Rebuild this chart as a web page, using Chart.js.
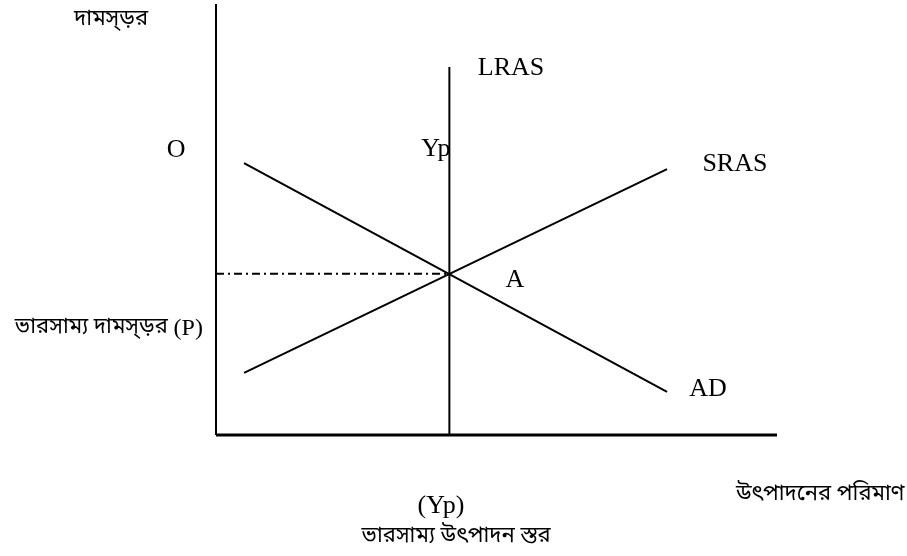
<!DOCTYPE html>
<html>
<head>
<meta charset="utf-8">
<script src="https://cdn.jsdelivr.net/npm/chart.js@4.4.1/dist/chart.umd.min.js"></script>
<style>
html,body{margin:0;padding:0;background:#fff;}
#wrap{width:907px;height:556px;position:relative;}
</style>
</head>
<body>
<div id="wrap"><canvas id="c" width="907" height="556"></canvas></div>
<script>
// Diagram data (abstract units: quantity 0..100, price level 0..100)
const lrasX = [41.6, 41.6];
const lrasY = [0, 85.4];
const adX = [5.0, 80.4];
const adY = [63.1, 10.0];
const srasX = [5.0, 80.4];
const srasY = [14.4, 61.7];
const eqX = [0, 41.6];
const eqY = [37.4, 37.4];
const axisYX = [0, 0];
const axisYY = [0, 100];
const axisXX = [0, 100];
const axisXY = [0, 0];

// Text labels
const labelTexts = ['দামস্ড়র', 'O', 'Yp', 'LRAS', 'SRAS', 'A', 'ভারসাম্য দামস্ড়র (P)', 'AD', '(Yp)', 'ভারসাম্য উৎপাদন স্তর', 'উৎপাদনের পরিমাণ'];
const labelX = [-18.7, -7.1, 39.2, 52.6, 92.5, 53.3, -19.1, 87.7, 40.1, 42.8, 107.7];
const labelY = [96.0, 66.1, 66.4, 85.2, 62.9, 36.0, 24.6, 10.7, -16.5, -23.9, -14.0];
const labelKind = ['bn', 'en', 'en', 'en', 'en', 'en', 'mix', 'en', 'en', 'bn', 'bn'];

function pts(xs, ys){ return xs.map((x,i)=>({x:x, y:ys[i]})); }

const serif = '"Liberation Serif", "Times New Roman", serif';
const bn = '"Noto Sans Bengali", "Lohit Bengali", "Noto Sans", "DejaVu Sans", sans-serif';
const bnSize = 22;
const enSize = 26;

const labelPlugin = {
  id: 'labels',
  afterDraw(chart){
    const ctx = chart.ctx;
    const xs = chart.scales.x, ys = chart.scales.y;
    ctx.save();
    ctx.fillStyle = '#000';
    ctx.textAlign = 'center';
    ctx.textBaseline = 'middle';
    labelTexts.forEach((t,i)=>{
      const px = xs.getPixelForValue(labelX[i]);
      const py = ys.getPixelForValue(labelY[i]);
      if (labelKind[i] === 'mix') {
        const part1 = 'ভারসাম্য দামস্ড়র ';
        const part2 = '(P)';
        ctx.font = bnSize + 'px ' + bn;
        const w1 = ctx.measureText(part1).width;
        ctx.font = '24px ' + serif;
        const w2 = ctx.measureText(part2).width;
        const left = px - (w1 + w2)/2;
        ctx.textAlign = 'left';
        ctx.font = bnSize + 'px ' + bn;
        ctx.fillText(part1, left, py);
        ctx.font = '24px ' + serif;
        ctx.fillText(part2, left + w1, py);
        ctx.textAlign = 'center';
      } else {
        ctx.font = labelKind[i] === 'en' ? (enSize + 'px ' + serif) : (bnSize + 'px ' + bn);
        ctx.fillText(t, px, py);
      }
    });
    ctx.restore();
  }
};

const lineDs = (data, width, dash) => ({
  data: data, showLine: true, borderColor: '#000', backgroundColor: '#000',
  borderWidth: width, pointRadius: 0, borderDash: dash || [], clip: false,
  tension: 0, borderCapStyle: 'butt'
});

new Chart(document.getElementById('c'), {
  type: 'scatter',
  data: {
    datasets: [
      lineDs(pts(axisYX, axisYY), 2),
      lineDs(pts(axisXX, axisXY), 3),
      lineDs(pts(lrasX, lrasY), 2),
      lineDs(pts(adX, adY), 2),
      lineDs(pts(srasX, srasY), 2),
      lineDs(pts(eqX, eqY), 2, [8, 4, 2, 4])
    ]
  },
  options: {
    responsive: false,
    animation: false,
    events: [],
    layout: { padding: { left: 216, top: 4, right: 130, bottom: 121 } },
    plugins: { legend: { display: false }, tooltip: { enabled: false } },
    scales: {
      x: { type: 'linear', min: 0, max: 100, display: false },
      y: { type: 'linear', min: 0, max: 100, display: false }
    }
  },
  plugins: [labelPlugin]
});
</script>
</body>
</html>
